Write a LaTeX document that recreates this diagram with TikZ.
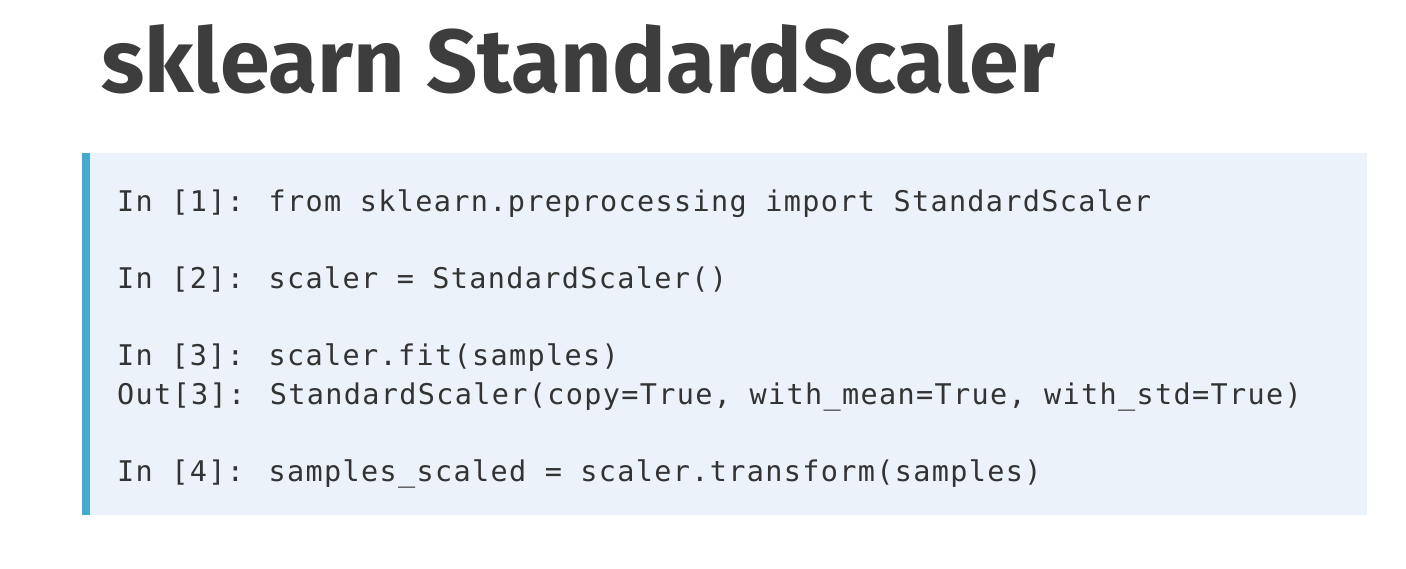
\documentclass[tikz,border=0pt]{standalone}
\usepackage{fontspec}
\setmainfont{Fira Sans}
\newfontfamily\codefont[LetterSpace=4.7]{DejaVu Sans Mono}
\definecolor{codebg}{HTML}{EBF2F9}
\definecolor{codebar}{HTML}{45ABCC}
\definecolor{inktext}{HTML}{333333}
\tikzset{
  codeline/.style={anchor=base west, inner sep=0pt, text=inktext, font=\codefont\fontsize{28.5}{30}\selectfont}
}
\begin{document}
\begin{tikzpicture}[x=1pt,y=-1pt]
			\useasboundingbox[fill=white] (0,0) rectangle (1406,568);
			\fill[codebg] (82,153) rectangle (1367,515); % Code box
			\fill[codebar] (82,153) rectangle (90,515); % Left bar
			\node[anchor=base west, inner sep=0pt, text=inktext!95!white, font=\bfseries\fontsize{89.6}{96}\selectfont] (title) at (101,92) {sklearn StandardScaler}; % Title
			\node[codeline] (in1) at (117,211) {In [1]: from sklearn.preprocessing import StandardScaler};
			\node[codeline] (in2) at (117,288.4) {In [2]: scaler = StandardScaler()};
			\node[codeline] (in3) at (117,365.8) {In [3]: scaler.fit(samples)};
			\node[codeline] (out3) at (117,404.5) {Out[3]: StandardScaler(copy=True, with\_mean=True, with\_std=True)};
			\node[codeline] (in4) at (117,481.9) {In [4]: samples\_scaled = scaler.transform(samples)};
		\end{tikzpicture}
\end{document}
